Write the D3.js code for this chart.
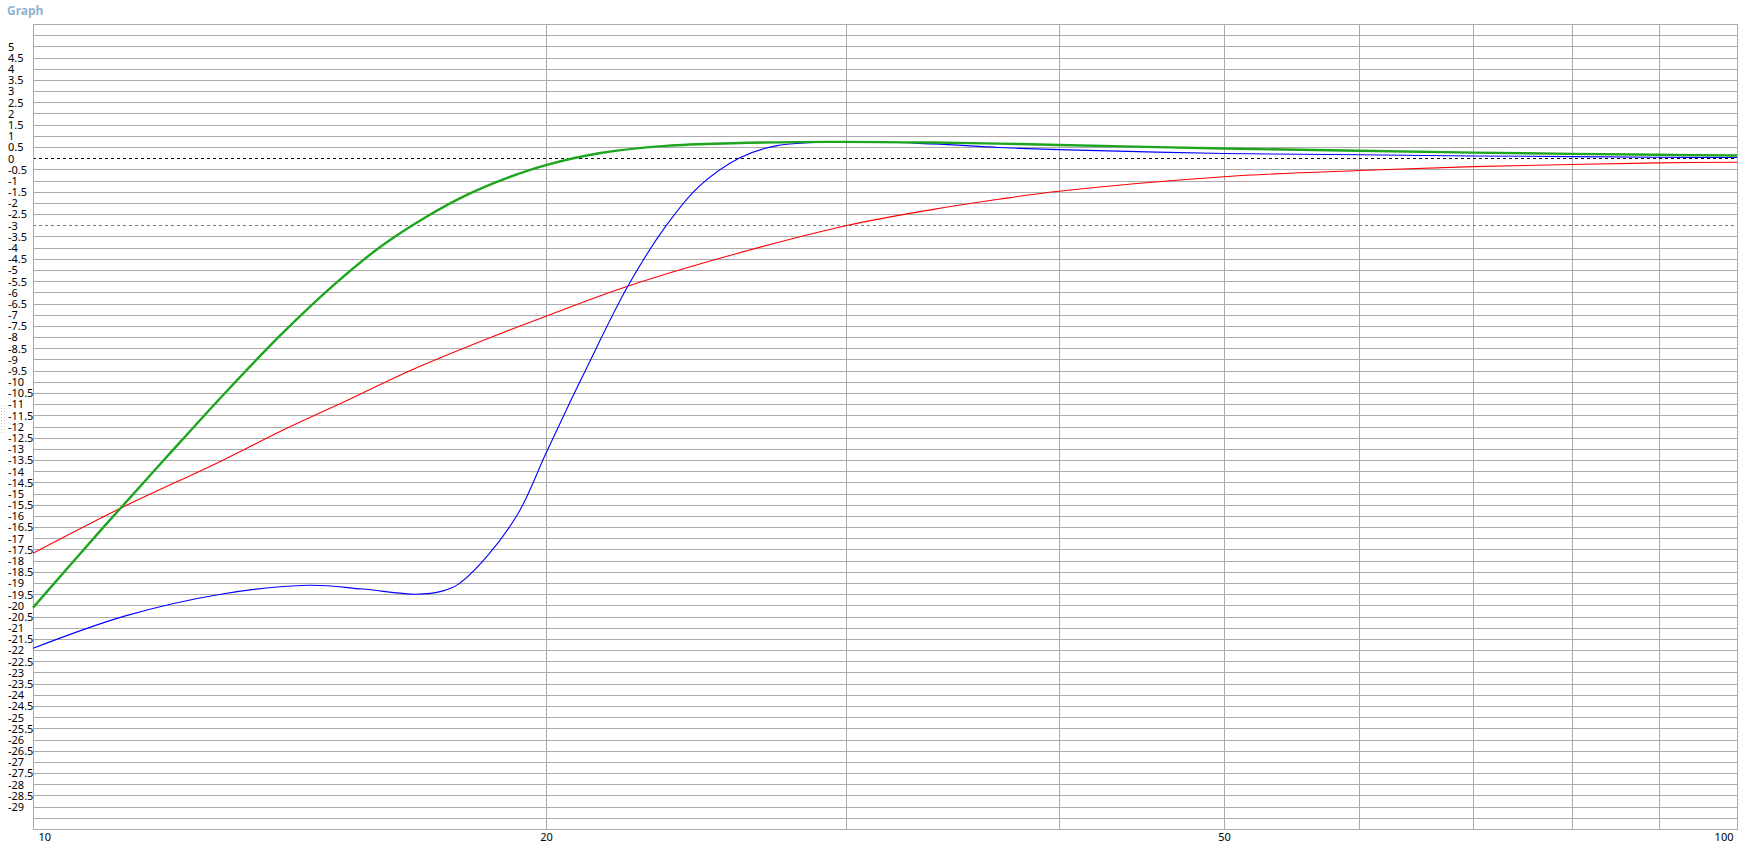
<!DOCTYPE html>
<html>
<head>
<meta charset="utf-8">
<script src="https://cdn.jsdelivr.net/npm/d3@7"></script>
<style>
  html, body { margin: 0; padding: 0; background: #ffffff; }
  svg { display: block; }
  text { font-family: "Noto Sans", "Open Sans", sans-serif; }
</style>
</head>
<body>
<svg id="chart" width="1750" height="862"></svg>
<script>
// ---- data ----
const greenFreq = [10, 11, 12, 13, 14, 15, 16, 17, 18, 19, 20, 21.49, 23.51, 25.73, 29.43, 33.7, 36.87, 40, 50, 60, 70, 80, 90, 100];
const greenVal  = [-20.10, -16.50, -13.30, -10.40, -7.85, -5.70, -3.95, -2.64, -1.62, -0.87, -0.31, 0.22, 0.55, 0.67, 0.73, 0.70, 0.65, 0.59, 0.43, 0.33, 0.25, 0.19, 0.15, 0.12];

const blueFreq = [10, 11.33, 12.89, 14.52, 15.61, 16.78, 17.40, 17.76, 18.51, 19.29, 20, 20.68, 21.11, 22.33, 23.51, 24.59, 25.96, 27.29, 30, 33.7, 36.87, 40, 50, 60, 70, 80, 90, 100];
const blueVal  = [-21.92, -20.47, -19.50, -19.10, -19.27, -19.50, -19.35, -19.06, -17.72, -15.80, -13.20, -10.85, -9.45, -5.75, -3.05, -1.27, 0.00, 0.55, 0.74, 0.64, 0.48, 0.38, 0.21, 0.15, 0.10, 0.07, 0.04, 0.03];

const redFreq = [10, 11.24, 12.89, 14.08, 15.33, 16.69, 18.78, 20, 22.33, 25.73, 30, 33.7, 36.87, 40, 50, 60, 70, 80, 90, 100];
const redVal  = [-17.67, -15.68, -13.55, -12.09, -10.79, -9.46, -7.86, -7.07, -5.73, -4.32, -3.02, -2.30, -1.84, -1.48, -0.83, -0.55, -0.38, -0.28, -0.21, -0.18];

const xGridValues  = [20, 30, 40, 50, 60, 70, 80, 90];
const xTickLabels  = [10, 20, 50, 100];
const yTickLabels  = d3.range(5, -29.01, -0.5);
const yGridValues  = d3.range(6, -30.01, -0.5).filter(v => v !== 0 && v !== -3);
const refLines     = [{ v: 0, color: "#000000" }, { v: -3, color: "#777777" }];
const title        = "Graph";

// ---- layout ----
const L = 33, R = 1737, T = 24, B = 829;
const svg = d3.select("#chart");

const x = d3.scaleLog().domain([10, 100]).range([L, R]);
const y = d3.scaleLinear().domain([-30, 6]).range([B, T]);
const px = v => Math.round(v) + 0.5;

// title
svg.append("text").attr("x", 7).attr("y", 15)
  .attr("font-size", 12).attr("font-weight", "bold").attr("fill", "#92b2d2")
  .text(title);

// splitter grip dots
const grip = svg.append("g");
for (let i = 0; i < 10; i++) {
  grip.append("rect").attr("x", 1).attr("y", 405 + i * 3).attr("width", 1).attr("height", 1).attr("fill", "#c8c8c8");
  grip.append("rect").attr("x", 4).attr("y", 405 + i * 3).attr("width", 1).attr("height", 1).attr("fill", "#c8c8c8");
}

const gridColor = "#ababab";

// horizontal grid
svg.append("g").attr("class", "hgrid")
  .selectAll("line").data(yGridValues).join("line")
  .attr("x1", L).attr("x2", R)
  .attr("y1", d => px(y(d))).attr("y2", d => px(y(d)))
  .attr("stroke", gridColor).attr("stroke-width", 1);

// vertical grid
svg.append("g").attr("class", "vgrid")
  .selectAll("line").data(xGridValues).join("line")
  .attr("x1", d => px(x(d))).attr("x2", d => px(x(d)))
  .attr("y1", T).attr("y2", B)
  .attr("stroke", gridColor).attr("stroke-width", 1);

// reference dashed lines
svg.append("g").selectAll("line").data(refLines).join("line")
  .attr("x1", L).attr("x2", R)
  .attr("y1", d => px(y(d.v))).attr("y2", d => px(y(d.v)))
  .attr("stroke", d => d.color).attr("stroke-width", 1)
  .attr("stroke-dasharray", "3,3");

// frame
svg.append("rect").attr("x", px(L)).attr("y", px(T))
  .attr("width", Math.round(R) - Math.round(L)).attr("height", Math.round(B) - Math.round(T))
  .attr("fill", "none").attr("stroke", gridColor).attr("stroke-width", 1);

// y axis labels
const yAxis = d3.axisLeft(y).tickValues(yTickLabels).tickSize(0).tickFormat(d => String(d));
const gy = svg.append("g").attr("transform", `translate(${L},0)`).call(yAxis);
gy.select(".domain").remove();
gy.selectAll("text")
  .attr("x", 8 - L).attr("dy", "0.35em").attr("text-anchor", "start")
  .attr("font-size", 11).attr("fill", "#000").attr("font-family", "Noto Sans, sans-serif");

// x axis labels
const xAxis = d3.axisBottom(x).tickValues(xTickLabels).tickSize(0).tickFormat(d => String(d));
const gx = svg.append("g").attr("transform", `translate(0,${B})`).call(xAxis);
gx.select(".domain").remove();
gx.selectAll("text")
  .attr("y", 12).attr("dy", 0).attr("font-size", 11).attr("fill", "#000")
  .attr("font-family", "Noto Sans, sans-serif")
  .attr("text-anchor", d => d === 10 ? "start" : d === 100 ? "end" : "middle")
  .attr("dx", d => d === 10 ? 5 : d === 100 ? -4 : 0);

// curves
const line = d3.line().x(d => x(d[0])).y(d => y(d[1])).curve(d3.curveCatmullRom.alpha(0.5));
const series = [
  { f: redFreq,   v: redVal,   color: "#ff0000", w: 1.1 },
  { f: blueFreq,  v: blueVal,  color: "#0000ff", w: 1.1 },
  { f: greenFreq, v: greenVal, color: "#1ea51e", w: 2.4 }
];
const plot = svg.append("g");
series.forEach(s => {
  plot.append("path")
    .datum(s.f.map((f, i) => [f, s.v[i]]))
    .attr("d", line)
    .attr("fill", "none")
    .attr("stroke", s.color)
    .attr("stroke-width", s.w);
});
</script>
</body>
</html>
